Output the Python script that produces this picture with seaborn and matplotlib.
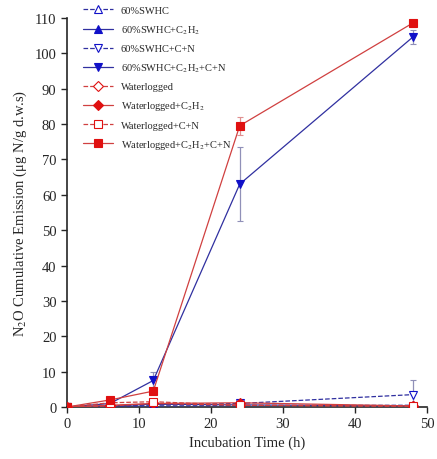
import numpy as np
import pandas as pd
import matplotlib
matplotlib.use("Agg")
import matplotlib.pyplot as plt
import seaborn as sns

# incubation times (h)
hours = [0, 6, 12, 24, 48]

# series names, as in the legend
names = ["60%SWHC", "60%SWHC+C$_2$H$_2$", "60%SWHC+C+N", "60%SWHC+C$_2$H$_2$+C+N",
         "Waterlogged", "Waterlogged+C$_2$H$_2$", "Waterlogged+C+N", "Waterlogged+C$_2$H$_2$+C+N"]

# cumulative N2O emission
swhc = [0, 0.2, 0.3, 0.4, 0.5]
swhc_c2h2 = [0, 0.3, 0.8, 0.6, 0.3]
swhc_cn = [0, 0.3, 0.6, 1.0, 3.5]
swhc_c2h2_cn = [0, 1.0, 7.5, 63.0, 104.5]
wl = [0, 0.3, 1.0, 0.5, 0.2]
wl_c2h2 = [0, 0.5, 1.0, 1.2, 0.3]
wl_cn = [0, 1.2, 1.5, 0.5, 0.3]
wl_c2h2_cn = [0, 2.0, 4.5, 79.5, 108.5]

# error bars (sd)
err_swhc_cn = [0, 0.2, 0.5, 0.3, 4.0]
err_swhc_c2h2_cn = [0, 0.5, 2.5, 10.5, 2.0]
err_wl_c2h2_cn = [0, 0.5, 0.8, 2.5, 1.0]

values = [swhc, swhc_c2h2, swhc_cn, swhc_c2h2_cn, wl, wl_c2h2, wl_cn, wl_c2h2_cn]
errors = {2: err_swhc_cn, 3: err_swhc_c2h2_cn, 7: err_wl_c2h2_cn}

df = pd.DataFrame({
    "time": hours * len(names),
    "value": [v for vals in values for v in vals],
    "series": [n for n in names for _ in hours],
})

sns.set_style("ticks")
plt.rcParams["font.family"] = ["Liberation Serif", "DejaVu Serif"]
plt.rcParams["mathtext.fontset"] = "stix"

blue = "#1010c8"
red = "#e01010"
styles = [
    ("^", blue, "#3030a0", False, "--"),
    ("^", blue, "#3030a0", True, "-"),
    ("v", blue, "#3030a0", False, "--"),
    ("v", blue, "#3030a0", True, "-"),
    ("D", red, "#d04040", False, "--"),
    ("D", red, "#d04040", True, "-"),
    ("s", red, "#d04040", False, "--"),
    ("s", red, "#d04040", True, "-"),
]

fig = plt.figure(figsize=(4.37, 4.6), dpi=100)
ax = fig.add_axes([0.153, 0.113, 0.824, 0.846])

for i, name in enumerate(names):
    marker, mcol, lcol, filled, ls = styles[i]
    sub = df[df["series"] == name]
    if i in errors:
        ax.errorbar(sub["time"], sub["value"], yerr=errors[i], fmt="none",
                    ecolor="#9090b8" if i < 4 else "#e09090", elinewidth=0.9,
                    capsize=2.5, capthick=0.8, zorder=2)
    sns.lineplot(data=sub, x="time", y="value", ax=ax, color=lcol, linestyle=ls,
                 linewidth=0.9, marker=marker, markersize=6 if marker != "D" else 5,
                 markerfacecolor=mcol if filled else "white",
                 markeredgecolor=mcol, markeredgewidth=0.8, label=name, zorder=3)

ax.set_xlim(0, 50)
ax.set_ylim(0, 110)
ax.set_xticks(np.arange(0, 51, 10))
ax.set_yticks(np.arange(0, 111, 10))
ax.tick_params(labelsize=10.5, length=4, width=1, direction="out")
ax.set_xlabel("Incubation Time (h)", fontsize=10.5)
ax.set_ylabel("N$_2$O Cumulative Emission (μg N/g d.w.s)", fontsize=10.5)
sns.despine(ax=ax)
for s in ["left", "bottom"]:
    ax.spines[s].set_linewidth(1.2)

ax.legend(loc="upper left", bbox_to_anchor=(0.02, 1.055), frameon=False,
          fontsize=7.5, handlelength=2.8, labelspacing=0.78, handletextpad=0.8)

fig.savefig("out.png", dpi=100)
